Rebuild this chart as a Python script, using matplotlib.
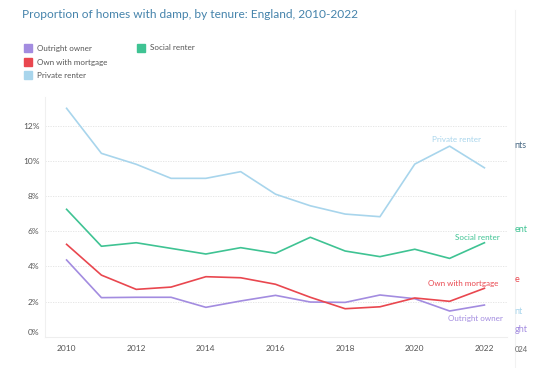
import matplotlib
matplotlib.use("Agg")
import matplotlib.pyplot as plt
from matplotlib.patches import Rectangle
from matplotlib.transforms import ScaledTranslation

years = list(range(2010, 2023))
outright_owner = [4.36, 2.22, 2.24, 2.24, 1.67, 2.03, 2.35, 1.97, 1.95, 2.37, 2.16, 1.46, 1.80]
own_with_mortgage = [5.25, 3.50, 2.69, 2.82, 3.41, 3.35, 2.98, 2.24, 1.59, 1.70, 2.20, 2.01, 2.75]
private_renter = [12.98, 10.42, 9.80, 9.00, 9.00, 9.38, 8.10, 7.44, 6.97, 6.82, 9.81, 10.83, 9.60]
social_renter = [7.24, 5.14, 5.34, 5.02, 4.70, 5.06, 4.74, 5.65, 4.87, 4.55, 4.97, 4.45, 5.34]

series_names = ["Outright owner", "Own with mortgage", "Private renter", "Social renter"]
colors = {"Outright owner": "#a38ce0", "Own with mortgage": "#e9474f",
          "Private renter": "#a8d5ec", "Social renter": "#3fc393"}
yticks = [0, 2, 4, 6, 8, 10, 12]
xticks = [2010, 2012, 2014, 2016, 2018, 2020, 2022]

plt.rcParams['font.family'] = ['Lato', 'DejaVu Sans']

W, H = 552, 368
fig = plt.figure(figsize=(W / 100, H / 100), dpi=100)
fig.patch.set_facecolor("white")

def fx(px):
    return px / W

def fy(py):
    return 1 - py / H

ax = fig.add_axes([fx(45), fy(336.7), (506.7 - 45) / W, (336.7 - 96.7) / H])
ax.set_xlim(2009.38, 2022.64)
ax.set_ylim(0, 13.64)

data = {"Outright owner": outright_owner, "Own with mortgage": own_with_mortgage,
        "Private renter": private_renter, "Social renter": social_renter}
for name in series_names:
    ax.plot(years, data[name], color=colors[name], lw=1.2, solid_joinstyle="round")

ax.set_yticks(yticks)
ax.set_yticklabels([f"{v}%" for v in yticks])
ax.set_xticks(xticks)
ax.set_xticklabels([str(v) for v in xticks])
ax.tick_params(axis="both", length=0, labelsize=6, labelcolor="#555555")
ax.tick_params(axis="y", pad=4)
ax.tick_params(axis="x", pad=6)
ax.grid(axis="y", color="#e2e2e2", lw=0.6, ls=(0, (1.5, 1.5)))
for s in ["top", "right"]:
    ax.spines[s].set_visible(False)
ax.spines["left"].set_color("#f0f0f0")
ax.spines["bottom"].set_color("#eeeeee")
ax.spines["left"].set_linewidth(0.8)
ax.spines["bottom"].set_linewidth(0.8)

# nudge the 0% label upward as in the reference
lbl0 = ax.get_yticklabels()[0]
lbl0.set_transform(lbl0.get_transform() + ScaledTranslation(0, 5 / 100, fig.dpi_scale_trans))

# end labels
fs_lab = 5.8
ax.text(2021.2, 10.83 + 0.2, "Private renter", color=colors["Private renter"], fontsize=fs_lab,
        ha="center", va="bottom")
ax.text(2021.8, 5.34 + 0.1, "Social renter", color=colors["Social renter"], fontsize=fs_lab,
        ha="center", va="bottom")
ax.text(2021.4, 2.75 + 0.1, "Own with mortgage", color=colors["Own with mortgage"], fontsize=fs_lab,
        ha="center", va="bottom")
ax.text(2021.75, 1.80 - 0.55, "Outright owner", color=colors["Outright owner"], fontsize=fs_lab,
        ha="center", va="top")

# title
fig.text(fx(22), fy(15), "Proportion of homes with damp, by tenure: England, 2010-2022",
         color="#4583ab", fontsize=8.6, ha="left", va="center")

# legend
leg = [("Outright owner", 24, 48), ("Own with mortgage", 24, 62), ("Private renter", 24, 75),
       ("Social renter", 137, 48)]
for name, x0, yc in leg:
    fig.patches.append(Rectangle((fx(x0), fy(yc + 4)), 8 / W, 8 / H, transform=fig.transFigure,
                                 color=colors[name]))
    fig.text(fx(x0 + 13), fy(yc), name, color="#555555", fontsize=5.8, ha="left", va="center")

# neighbouring panel fragments on the right
fig.add_artist(plt.Line2D([fx(514.5), fx(514.5)], [fy(10), fy(368)], transform=fig.transFigure,
                          color="#f2f2f2", lw=0.8))
frags = [("nts", 145, "#4a6a85"), ("ent", 229, "#3fc393"), ("e", 279, "#e9474f"),
         ("nt", 311, "#a8d5ec"), ("ght", 330, "#a38ce0"), ("024", 349, "#666666")]
for t, yy, c in frags:
    fig.text(fx(514.5), fy(yy), t, color=c, fontsize=6.5 if t != "024" else 5.5,
             ha="left", va="center")

fig.savefig("out.png", dpi=100, facecolor="white")
